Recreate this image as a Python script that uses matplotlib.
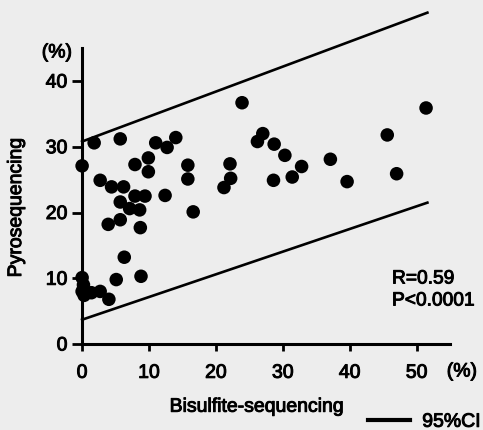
import matplotlib
matplotlib.use('Agg')
import matplotlib.pyplot as plt
import matplotlib.patheffects as pe
from matplotlib.lines import Line2D

plt.rcParams['font.family'] = ['Liberation Sans', 'DejaVu Sans']

# Bisulfite-sequencing (x) vs Pyrosequencing (y), in %
bisulfite = [0.0, 0.2, 0.0, 0.3, 1.4, 2.7, 4.0, 5.1, 8.8, 6.3,
             3.9, 5.7, 8.7, 7.1, 8.6, 5.7, 7.9, 9.4, 12.4, 4.4,
             6.2, 2.7, 0.0, 7.9, 9.9, 9.9, 1.8, 5.7, 11.0, 12.7,
             14.0, 15.8, 15.8, 16.6, 23.9, 22.1, 22.2, 21.2, 27.0, 26.2,
             28.7, 30.3, 28.6, 31.4, 32.8, 37.1, 39.6, 45.6, 47.0, 51.4]
pyroseq = [10.1, 9.0, 8.0, 7.4, 7.8, 8.0, 6.8, 9.8, 10.3, 13.2,
           18.2, 18.9, 17.7, 20.6, 20.4, 21.6, 22.5, 22.5, 22.6, 23.9,
           23.9, 24.9, 27.1, 27.3, 28.3, 26.2, 30.6, 31.2, 30.6, 29.9,
           31.4, 27.2, 25.1, 20.1, 36.7, 27.4, 25.2, 23.8, 32.0, 30.8,
           30.4, 28.7, 24.9, 25.4, 27.0, 28.1, 24.7, 31.8, 25.9, 35.9]

# 95% confidence band end points
ci_x = [0.0, 51.6]
ci_upper = [30.8, 50.4]
ci_lower = [3.7, 21.5]

x_ticks = [0, 10, 20, 30, 40, 50]
y_ticks = [0, 10, 20, 30, 40]

bg = '#ededed'
fs = 14
thick = [pe.withStroke(linewidth=0.7, foreground='black')]

fig = plt.figure(figsize=(4.83, 4.30), dpi=100, facecolor=bg)
ax = fig.add_axes([0.170, 0.200, 0.762, 0.688], facecolor=bg)

ax.plot(ci_x, ci_upper, color='black', linewidth=1.9, clip_on=False)
ax.plot(ci_x, ci_lower, color='black', linewidth=1.9, clip_on=False)
ax.scatter(bisulfite, pyroseq, s=95, color='black', edgecolors='none',
           zorder=5, clip_on=False)

ax.set_xlim(0, 55)
ax.set_ylim(0, 45)
ax.set_xticks(x_ticks)
ax.set_yticks(y_ticks)

for side in ['top', 'right']:
    ax.spines[side].set_visible(False)
for side in ['left', 'bottom']:
    ax.spines[side].set_linewidth(2.2)

ax.tick_params(axis='y', length=7, width=2, pad=3.5, labelsize=fs)
ax.tick_params(axis='x', length=5, width=2, pad=10, labelsize=fs)
for lbl in ax.get_xticklabels() + ax.get_yticklabels():
    lbl.set_path_effects(thick)

ax.set_xlabel('Bisulfite-sequencing', fontsize=fs, va='top', path_effects=thick)
ax.xaxis.set_label_coords(0.476, -0.185)
ax.set_ylabel('Pyrosequencing', fontsize=fs, path_effects=thick)
ax.yaxis.set_label_coords(-0.155, 0.463)

fig.text(57 / 483, 1 - 53 / 430, '(%)', fontsize=fs, ha='center', va='center',
         path_effects=thick)
fig.text(462 / 483, 1 - 372 / 430, '(%)', fontsize=fs, ha='center', va='center',
         path_effects=thick)

ax.text(392 / 483, 1 - 279 / 430, 'R=0.59', fontsize=13.8,
        transform=fig.transFigure, va='center', path_effects=thick)
ax.text(392 / 483, 1 - 301 / 430, 'P<0.0001', fontsize=13.8,
        transform=fig.transFigure, va='center', path_effects=thick)

handle = Line2D([0], [0], color='black', linewidth=3)
leg = fig.legend([handle], ['95%CI'], loc='center left',
                 bbox_to_anchor=(360 / 483, 1 - 422 / 430), frameon=False,
                 fontsize=fs, handlelength=2.15, handletextpad=0.65,
                 borderaxespad=0)
for t in leg.get_texts():
    t.set_path_effects(thick)

fig.savefig('out.png', dpi=100, facecolor=bg)
